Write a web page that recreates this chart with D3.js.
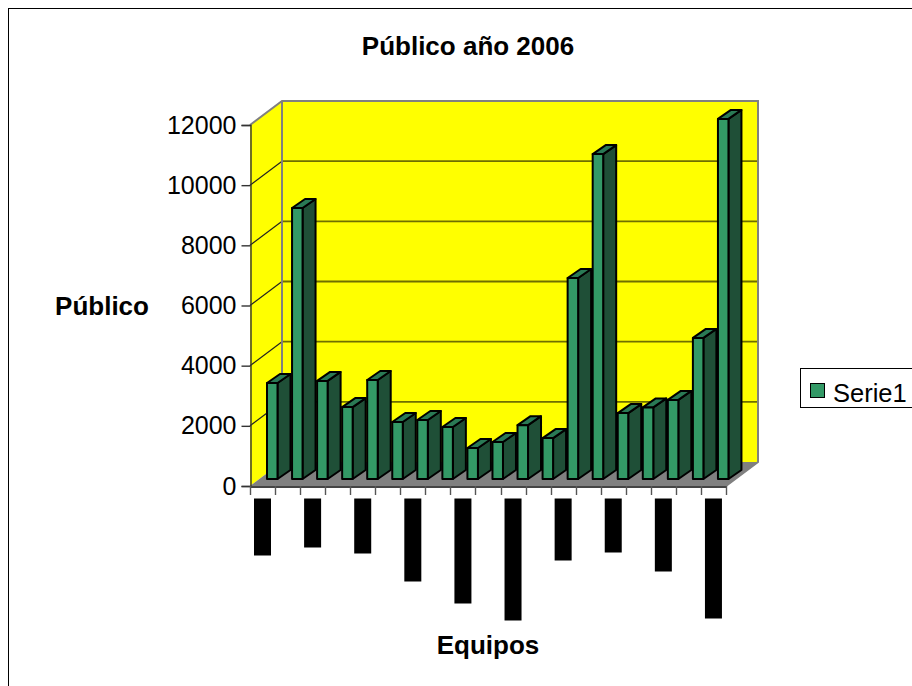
<!DOCTYPE html>
<html><head><meta charset="utf-8">
<script src="https://d3js.org/d3.v7.min.js"></script>
<style>html,body{margin:0;padding:0;background:#fff}svg{display:block}text{font-family:"Liberation Sans",Arial,sans-serif}</style>
</head><body><svg id="c" width="912" height="686"></svg>
<script>
const categories = d3.range(1, 20).map(String);
const serie1 = [3190,9010,3260,2390,3290,1895,1960,1730,1030,1230,1790,1360,6680,10800,2190,2380,2630,4690,11970];
const yTicks = [0,2000,4000,6000,8000,10000,12000];
const hiddenLabelLengths = [57,49,55,83,105,122,62,54,73,120];
const titleText = "Público año 2006", xTitle = "Equipos", yTitle = "Público", seriesName = "Serie1";

const svg = d3.select("#c");
const dx = 32, dy = -24;               // depth of the 3-D box
const x = d3.scaleBand().domain(categories).range([250, 726]).paddingInner(0).paddingOuter(0);
const y = d3.scaleLinear().domain([0, 12000]).range([486, 125]);
const poly = pts => pts.map(p => p.join(",")).join(" ");
const G = "#808080";

// frame
svg.append("rect").attr("x",8.5).attr("y",8.5).attr("width",920).attr("height",700).attr("fill","#fff").attr("stroke","#000");

// walls and floor
svg.append("polygon").attr("fill","#ffff00").attr("points",poly([[x.range()[0]+dx,y(12000)+dy],[x.range()[1]+dx,y(12000)+dy],[x.range()[1]+dx,y(0)+dy],[x.range()[0]+dx,y(0)+dy]]));
svg.append("polygon").attr("fill","#ffff00").attr("points",poly([[250,y(12000)],[250+dx,y(12000)+dy],[250+dx,y(0)+dy],[250,y(0)]]));
svg.append("polygon").attr("fill",G).attr("points",poly([[250,y(0)],[726,y(0)],[726+dx,y(0)+dy],[250+dx,y(0)+dy]]));

// gridlines
yTicks.forEach(t => {
  if (t > 0 && t < 12000) {
    svg.append("line").attr("x1",250+dx).attr("x2",726+dx).attr("y1",y(t)+dy).attr("y2",y(t)+dy).attr("stroke","#6e6e00").attr("stroke-width",1.8);
    svg.append("line").attr("x1",250).attr("x2",250+dx).attr("y1",y(t)).attr("y2",y(t)+dy).attr("stroke","#222").attr("stroke-width",1.2);
  }
});
svg.append("path").attr("fill","none").attr("stroke",G).attr("stroke-width",2)
  .attr("d",`M250,${y(12000)}L${250+dx},${y(12000)+dy}H${726+dx}V${y(0)+dy}L726,${y(0)}`);
svg.append("line").attr("x1",250+dx).attr("x2",250+dx).attr("y1",y(12000)+dy).attr("y2",y(0)+dy).attr("stroke",G).attr("stroke-width",2);

// axes
const yAxis = d3.axisLeft(y).tickValues(yTicks).tickSize(9).tickPadding(5).tickFormat(d3.format("d"));
const yg = svg.append("g").attr("transform","translate(250.5,0)").call(yAxis);
yg.selectAll("text").attr("font-size","25px").attr("fill","#000").style("font-family",'"Liberation Sans",Arial,sans-serif');
yg.selectAll("line").attr("stroke","#333").attr("stroke-width",1.4);
yg.select(".domain").attr("stroke","#333").attr("stroke-width",1.4);
const xAxis = d3.axisBottom(x).tickValues([]).tickSizeOuter(0);
const xg = svg.append("g").attr("transform",`translate(0,${y(0)+0.5})`).call(xAxis);
xg.select(".domain").attr("stroke","#444").attr("stroke-width",2);
x.domain().concat(["end"]).forEach((c,i)=>{
  const px = Math.round(250 + i*x.step()) + .5;
  svg.append("line").attr("x1",px).attr("x2",px).attr("y1",y(0)).attr("y2",y(0)+9).attr("stroke","#555").attr("stroke-width",1.4);
});

// bars
const barW = 10.5, bdx = 13, bdy = -9, baseY = y(0) - 7;
const bh = d => y(0) - y(d);
const bars = svg.append("g").selectAll("g").data(serie1).join("g")
  .attr("stroke","#000").attr("stroke-width",2).attr("stroke-linejoin","round");
const bx = i => x(categories[i]) + 17;
bars.append("polygon").attr("fill","#1f4f37")
  .attr("points",(d,i)=>poly([[bx(i)+barW,baseY],[bx(i)+barW+bdx,baseY+bdy],[bx(i)+barW+bdx,baseY-bh(d)+bdy],[bx(i)+barW,baseY-bh(d)]]));
bars.append("polygon").attr("fill","#2a7a55")
  .attr("points",(d,i)=>poly([[bx(i),baseY-bh(d)],[bx(i)+bdx,baseY-bh(d)+bdy],[bx(i)+barW+bdx,baseY-bh(d)+bdy],[bx(i)+barW,baseY-bh(d)]]));
bars.append("rect").attr("fill","#339966")
  .attr("x",(d,i)=>bx(i)).attr("y",d=>baseY-bh(d)).attr("width",barW).attr("height",d=>bh(d));

// obscured category labels
svg.append("g").selectAll("rect").data(hiddenLabelLengths).join("rect")
  .attr("fill","#000").attr("x",(d,i)=>x(categories[i*2])+4).attr("y",498.5).attr("width",17).attr("height",d=>d);

// titles
svg.append("text").attr("x",468).attr("y",55).attr("text-anchor","middle").attr("font-size","26px").attr("font-weight","bold").text(titleText);
svg.append("text").attr("x",102).attr("y",315).attr("text-anchor","middle").attr("font-size","26px").attr("font-weight","bold").text(yTitle);
svg.append("text").attr("x",488).attr("y",654).attr("text-anchor","middle").attr("font-size","26px").attr("font-weight","bold").text(xTitle);

// legend
const lg = svg.append("g");
lg.append("rect").attr("x",800.5).attr("y",368.5).attr("width",120).attr("height",39).attr("fill","#fff").attr("stroke","#000");
lg.append("rect").attr("x",810.5).attr("y",383.5).attr("width",14).attr("height",14).attr("fill","#339966").attr("stroke","#000");
lg.append("text").attr("x",833).attr("y",402).attr("font-size","25.5px").text(seriesName);
</script></body></html>
